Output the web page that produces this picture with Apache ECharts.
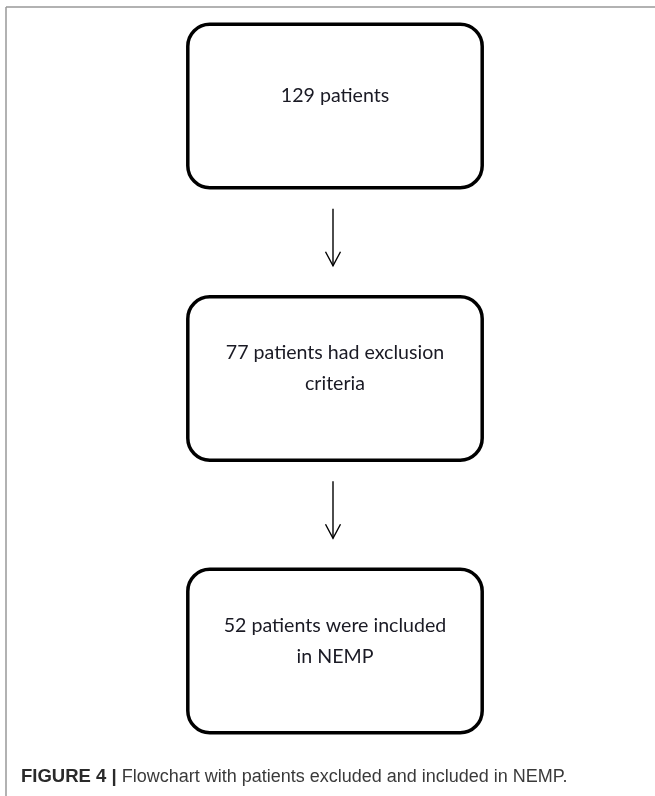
<!DOCTYPE html>
<html>
<head>
<meta charset="utf-8">
<script src="https://cdn.jsdelivr.net/npm/echarts@6/dist/echarts.min.js"></script>
<style>
html,body{margin:0;padding:0;background:#fff;}
#chart{width:655px;height:796px;}
</style>
</head>
<body>
<div id="chart"></div>
<script>
// Flowchart stages (top to bottom)
const stages = ['129 patients', '77 patients had exclusion\ncriteria', '52 patients were included\nin NEMP'];
const column = ['flow'];
const captionBold = 'FIGURE 4 |';
const captionText = 'Flowchart with patients excluded and included in NEMP.';

const chart = echarts.init(document.getElementById('chart'));

const data = stages.map((s, i) => [column[0], i, s]);

chart.setOption({
  animation: false,
  backgroundColor: '#ffffff',
  title: {
    text: '{b|' + captionBold + '} {r|' + captionText + '}',
    left: 21,
    top: 767,
    padding: 0,
    textStyle: {
      fontWeight: 'normal',
      rich: {
        b: { fontFamily: 'Liberation Sans, Arial, sans-serif', fontWeight: 'bold', fontSize: 18.5, color: '#2a2a2a', lineHeight: 20 },
        r: { fontFamily: 'Liberation Sans, Arial, sans-serif', fontWeight: 'normal', fontSize: 18, color: '#3a3a3a', lineHeight: 20 }
      }
    }
  },
  graphic: [
    { type: 'line', shape: { x1: 6, y1: 7, x2: 655, y2: 7 }, style: { stroke: '#999', lineWidth: 1.5 } },
    { type: 'line', shape: { x1: 6, y1: 7, x2: 6, y2: 796 }, style: { stroke: '#999', lineWidth: 1.5 } }
  ],
  grid: { left: 15, right: 0, top: 106, bottom: 145 },
  xAxis: { type: 'category', data: column, show: false },
  yAxis: { type: 'value', min: 0, max: stages.length - 1, inverse: true, show: false },
  series: [{
    type: 'custom',
    data: data,
    renderItem: function (params, api) {
      const i = api.value(1);
      const c = api.coord([api.value(0), i]);
      const band = api.size([1, 0])[0];
      const step = api.size([0, 1])[1];
      const w = band * 0.46;
      const h = step * 0.6;
      const children = [
        {
          type: 'rect',
          shape: { x: c[0] - w / 2, y: c[1] - h / 2, width: w, height: h, r: 22 },
          style: { fill: '#fff', stroke: '#000', lineWidth: 3.5 }
        },
        {
          type: 'text',
          x: c[0], y: c[1] - 10,
          style: {
            text: stages[params.dataIndex],
            align: 'center', verticalAlign: 'middle',
            fontFamily: 'Lato, sans-serif', fontSize: 19.6, lineHeight: 31,
            fill: '#1a1a24'
          }
        }
      ];
      if (params.dataIndex < stages.length - 1) {
        const n = api.coord([api.value(0), i + 1]);
        const y1 = c[1] + h / 2 + 21;
        const y2 = n[1] - h / 2 - 31;
        children.push({
          type: 'line', shape: { x1: c[0] - 2, y1: y1, x2: c[0] - 2, y2: y2 },
          style: { stroke: '#000', lineWidth: 1.4 }
        });
        children.push({
          type: 'polyline', shape: { points: [[c[0] - 9.5, y2 - 14], [c[0] - 2, y2], [c[0] + 5.5, y2 - 14]] },
          style: { stroke: '#000', lineWidth: 1.4, fill: null }
        });
      }
      return { type: 'group', children: children };
    }
  }]
});
</script>
</body>
</html>
